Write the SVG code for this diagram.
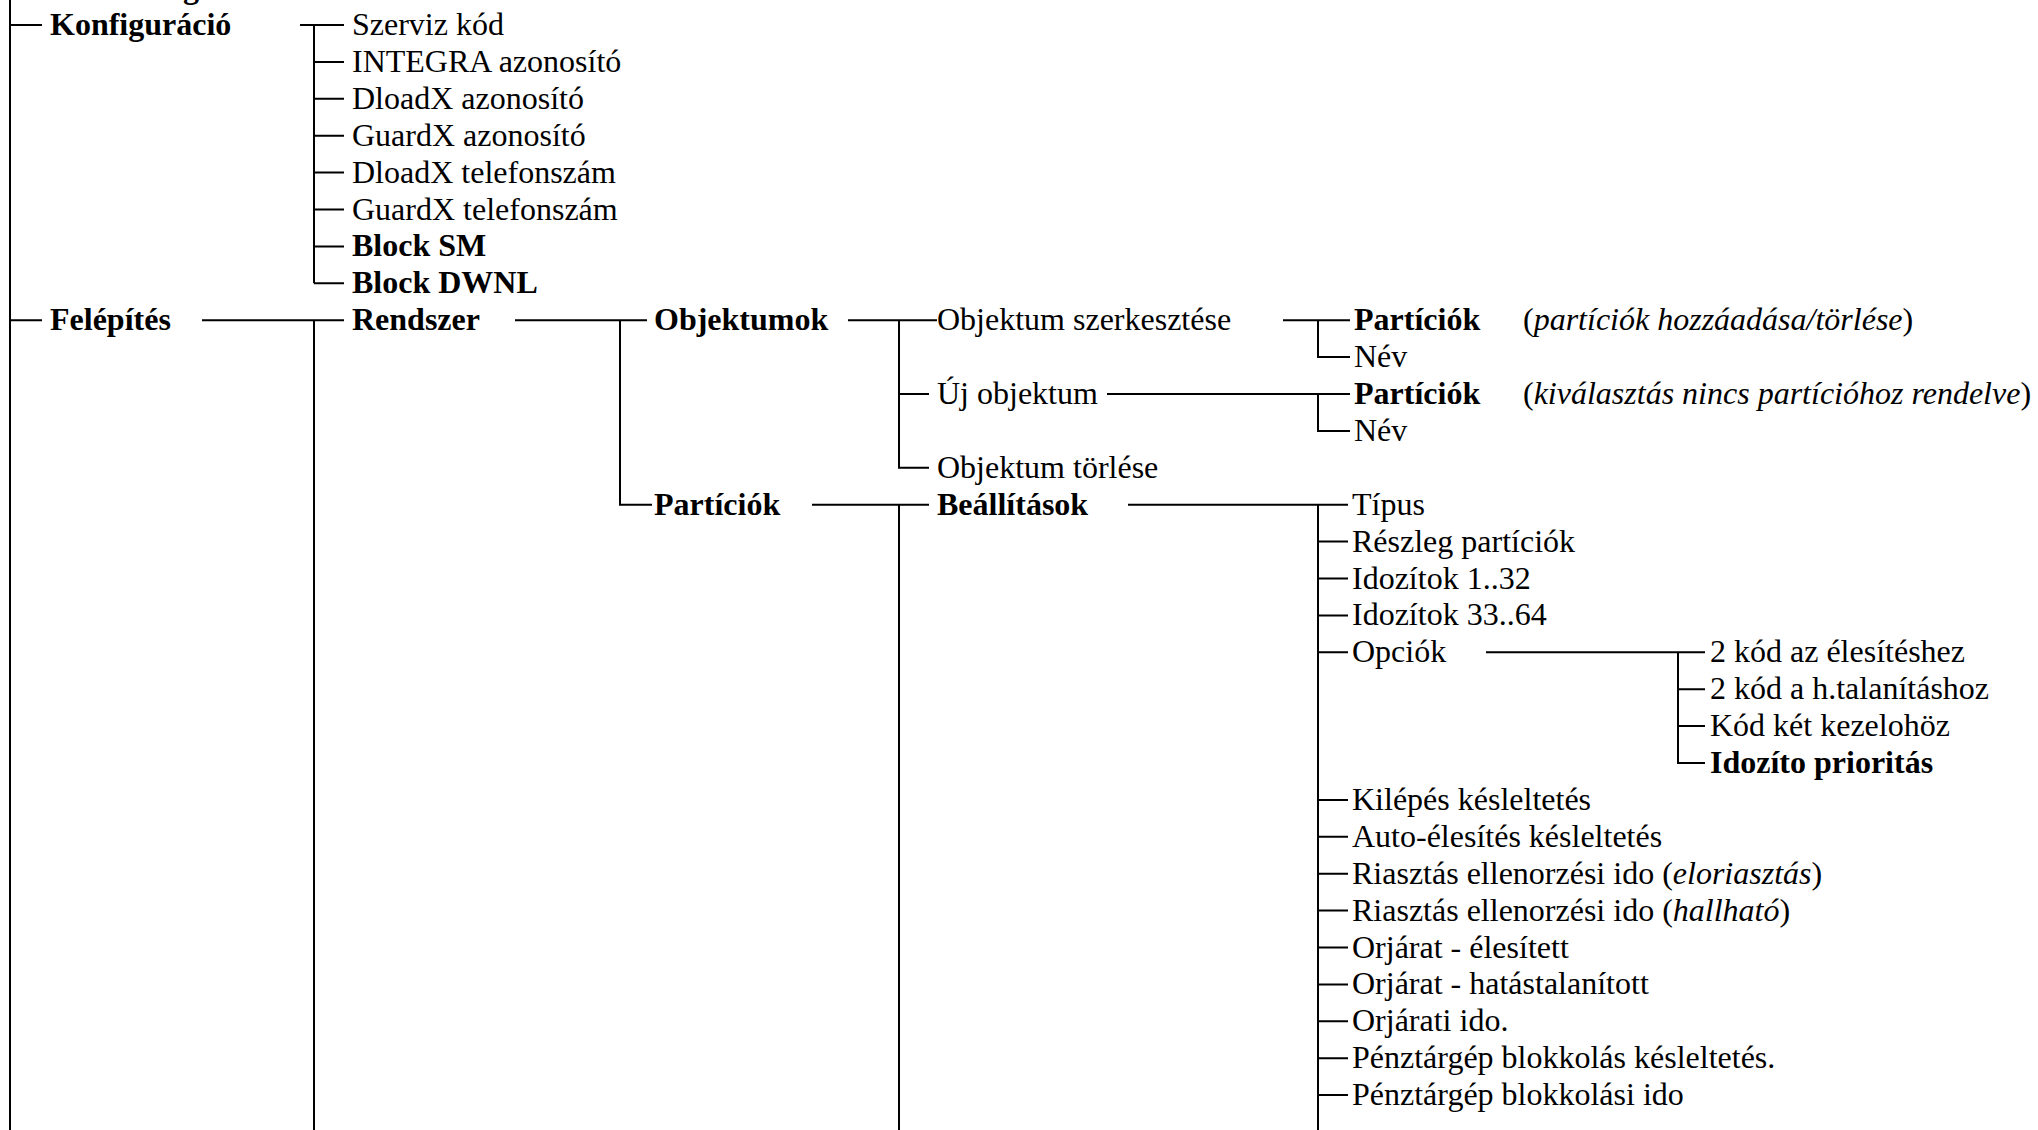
<svg xmlns="http://www.w3.org/2000/svg" width="2038" height="1130" viewBox="0 0 2038 1130">
<style>
text{font-family:"Liberation Serif","Times New Roman",serif;font-size:32px;fill:#000}
.b{font-weight:bold}
.i{font-style:italic}
.c{fill:none;stroke:#000;stroke-width:2}
</style>
<rect width="2038" height="1130" fill="#fff"/>
<g id="connectors" class="c">
<path d="M10 0V1130M10 25H42M10 320.2H42"/>
<path d="M300 25H344M314 25V283.3M314 61.9H344M314 98.8H344M314 135.7H344M314 172.6H344M314 209.5H344M314 246.4H344M314 283.3H344"/>
<path d="M202 320.2H344M314 320.2V1130"/>
<path d="M515 320.2H647M620 320.2V504.7H652"/>
<path d="M848 320.2H937M899 320.2V467.8H929M899 394H929"/>
<path d="M812 504.7H929M899 504.7V1130"/>
<path d="M1283 320.2H1350M1318 320.2V357.1H1350"/>
<path d="M1107 394H1350M1318 394V430.9H1350"/>
<path d="M1128 504.7H1348M1318 504.7V1130M1318 541.6H1348M1318 578.5H1348M1318 615.4H1348M1318 652.3H1348M1318 799.9H1348M1318 836.8H1348M1318 873.7H1348M1318 910.6H1348M1318 947.5H1348M1318 984.4H1348M1318 1021.3H1348M1318 1058.2H1348M1318 1095.1H1348"/>
<path d="M1486 652.3H1705M1678 652.3V763H1705M1678 689.2H1705M1678 726.1H1705"/>
</g>
<g id="n-top"><text class="b" x="183" y="-2">g</text></g>
<g id="n-konfiguracio"><text class="b" x="50" y="35">Konfiguráció</text></g>
<g id="n-szerviz"><text x="352" y="35">Szerviz kód</text></g>
<g id="n-integra"><text x="352" y="71.9">INTEGRA azonosító</text></g>
<g id="n-dloadx-az"><text x="352" y="108.8">DloadX azonosító</text></g>
<g id="n-guardx-az"><text x="352" y="145.7">GuardX azonosító</text></g>
<g id="n-dloadx-tel"><text x="352" y="182.6">DloadX telefonszám</text></g>
<g id="n-guardx-tel"><text x="352" y="219.5">GuardX telefonszám</text></g>
<g id="n-blocksm"><text class="b" x="352" y="256.4">Block SM</text></g>
<g id="n-blockdwnl"><text class="b" x="352" y="293.3">Block DWNL</text></g>
<g id="n-felepites"><text class="b" x="50" y="330.2">Felépítés</text></g>
<g id="n-rendszer"><text class="b" x="352" y="330.2">Rendszer</text></g>
<g id="n-objektumok"><text class="b" x="654" y="330.2">Objektumok</text></g>
<g id="n-obj-szerk"><text x="937" y="330.2">Objektum szerkesztése</text></g>
<g id="n-part1"><text class="b" x="1354" y="330.2">Partíciók</text><text x="1523" y="330.2">(<tspan class="i">partíciók hozzáadása/törlése</tspan>)</text></g>
<g id="n-nev1"><text x="1354" y="367.1">Név</text></g>
<g id="n-uj-obj"><text x="937" y="404">Új objektum</text></g>
<g id="n-part2"><text class="b" x="1354" y="404">Partíciók</text><text x="1523" y="404">(<tspan class="i">kiválasztás nincs partícióhoz rendelve</tspan>)</text></g>
<g id="n-nev2"><text x="1354" y="440.9">Név</text></g>
<g id="n-obj-torles"><text x="937" y="477.8">Objektum törlése</text></g>
<g id="n-particiok"><text class="b" x="654" y="514.7">Partíciók</text></g>
<g id="n-beallitasok"><text class="b" x="937" y="514.7">Beállítások</text></g>
<g id="n-tipus"><text x="1352" y="514.7">Típus</text></g>
<g id="n-reszleg"><text x="1352" y="551.6">Részleg partíciók</text></g>
<g id="n-idoz1"><text x="1352" y="588.5">Idozítok 1..32</text></g>
<g id="n-idoz2"><text x="1352" y="625.4">Idozítok 33..64</text></g>
<g id="n-opciok"><text x="1352" y="662.3">Opciók</text></g>
<g id="n-opt1"><text x="1710" y="662.3">2 kód az élesítéshez</text></g>
<g id="n-opt2"><text x="1710" y="699.2">2 kód a h.talanításhoz</text></g>
<g id="n-opt3"><text x="1710" y="736.1">Kód két kezelohöz</text></g>
<g id="n-opt4"><text class="b" x="1710" y="773">Idozíto prioritás</text></g>
<g id="n-kilepes"><text x="1352" y="809.9">Kilépés késleltetés</text></g>
<g id="n-auto"><text x="1352" y="846.8">Auto-élesítés késleltetés</text></g>
<g id="n-riaszt1"><text x="1352" y="883.7">Riasztás ellenorzési ido (<tspan class="i">eloriasztás</tspan>)</text></g>
<g id="n-riaszt2"><text x="1352" y="920.6">Riasztás ellenorzési ido (<tspan class="i">hallható</tspan>)</text></g>
<g id="n-orj1"><text x="1352" y="957.5">Orjárat - élesített</text></g>
<g id="n-orj2"><text x="1352" y="994.4">Orjárat - hatástalanított</text></g>
<g id="n-orj3"><text x="1352" y="1031.3">Orjárati ido.</text></g>
<g id="n-penz1"><text x="1352" y="1068.2">Pénztárgép blokkolás késleltetés.</text></g>
<g id="n-penz2"><text x="1352" y="1105.1">Pénztárgép blokkolási ido</text></g>
</svg>
